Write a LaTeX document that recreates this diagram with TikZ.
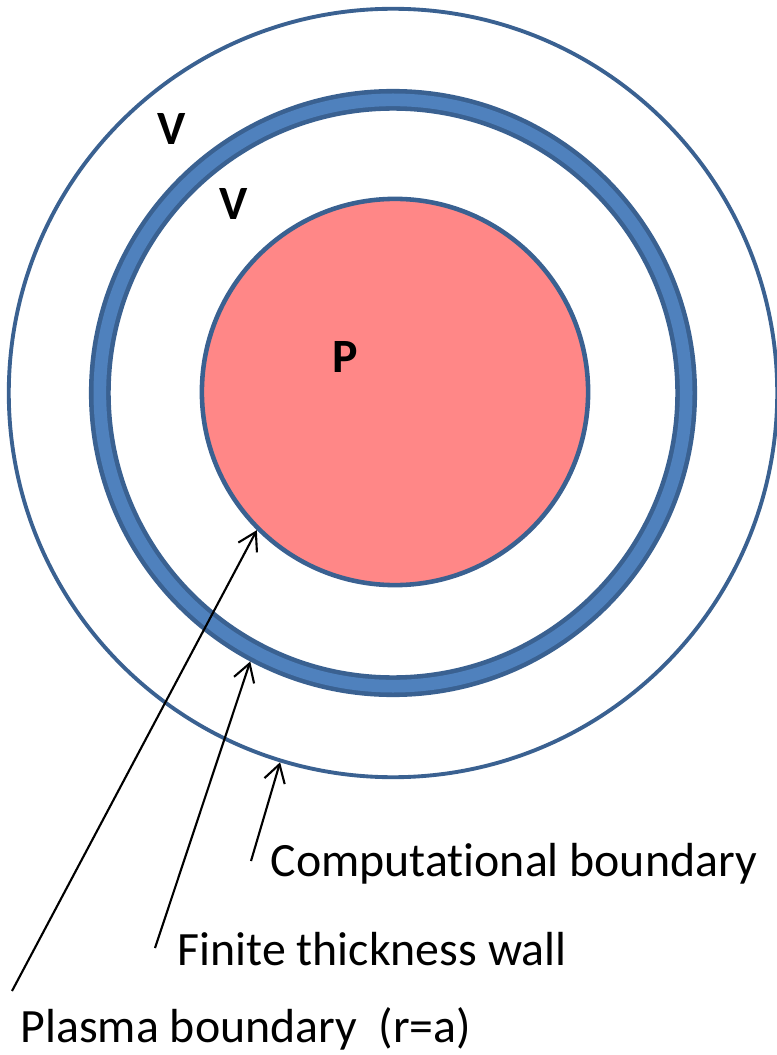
\documentclass[tikz,border=0pt]{standalone}
\usepackage{xcolor}
\usepackage{fontspec}
\setmainfont{Carlito}[Ligatures=NoCommon]
\usetikzlibrary{arrows.meta}
\definecolor{edgeblue}{HTML}{3A6191}
\definecolor{wallblue}{HTML}{4F81BD}
\definecolor{plasmapink}{HTML}{FF8787}
\tikzset{
  arr/.style={line width=0.6pt,-{Straight Barb[length=5pt,width=6pt]}},
  lbl/.style={font=\fontsize{13.6}{16}\selectfont,inner sep=0pt},
  reg/.style={font=\fontsize{13.6}{16}\selectfont\bfseries,inner sep=0pt}
}
\begin{document}
\begin{tikzpicture}[x=0.01cm,y=-0.01cm]
\useasboundingbox (0,0) rectangle (776,1055);
\node[circle,draw=edgeblue,line width=1.1pt,minimum size=7.68cm,inner sep=0pt] (comp) at (393,393) {};
\node[circle,draw=edgeblue,line width=6.2pt,minimum size=5.86cm,inner sep=0pt] (wall) at (393,393) {};
\draw[wallblue,line width=3.6pt] (wall.center) circle (2.93cm);
\node[circle,draw=edgeblue,fill=plasmapink,line width=1.3pt,minimum size=3.86cm,inner sep=0pt] (plasma) at (395,392) {};

\node[reg] (vout) at (172,129) {V};
\node[reg] (vin) at (234,204) {V};
\node[reg] (p) at (345,357) {P};

\node[lbl,anchor=base west] (complbl) at (270,876) {Computational boundary};
\node[lbl,anchor=base west] (walllbl) at (177,965) {Finite thickness wall};
\node[lbl,anchor=base west] (plasmalbl) at (20,1042) {Plasma boundary\ \ (r=a)};

\coordinate (compend) at (251,861);
\coordinate (wallend) at (155,948);
\coordinate (plasmaend) at (12,991);
\draw[arr] (compend) -- (comp.253);
\draw[arr] (wallend) -- (wall.242);
\draw[arr] (plasmaend) -- (plasma.225);
\end{tikzpicture}
\end{document}
